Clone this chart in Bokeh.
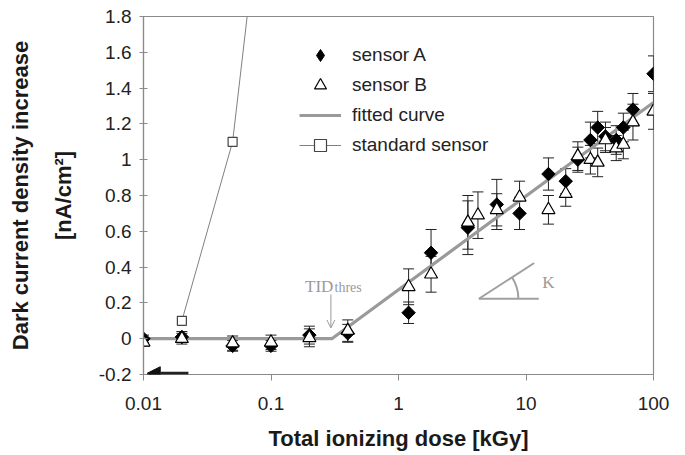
from bokeh.plotting import figure
from bokeh.models import (Whisker, TeeHead, ColumnDataSource, Legend, LegendItem,
                          FixedTicker, Label, Arrow, NormalHead, OpenHead)
from bokeh.embed import file_html
from bokeh.resources import INLINE
import numpy as np

# ---- data ----
dose_a = [0.01, 0.02, 0.05, 0.1, 0.2, 0.4, 1.2, 1.8, 3.5, 5.9, 8.9, 15, 20.5, 25.5, 32, 36.5, 42, 51, 58, 69, 100]
curr_a = [0.0, 0.01, -0.04, -0.04, 0.02, 0.03, 0.145, 0.48, 0.62, 0.75, 0.70, 0.92, 0.88, 1.0, 1.11, 1.18, 1.13, 1.11, 1.18, 1.28, 1.48]
err_a = [0.02, 0.03, 0.03, 0.03, 0.05, 0.05, 0.06, 0.13, 0.15, 0.14, 0.09, 0.09, 0.07, 0.07, 0.10, 0.09, 0.08, 0.08, 0.08, 0.09, 0.10]

dose_b = [0.01, 0.02, 0.05, 0.1, 0.2, 0.4, 1.2, 1.8, 3.5, 4.2, 5.9, 8.9, 15, 20.5, 25.5, 32, 36.5, 42, 51, 58, 69, 100]
curr_b = [-0.02, 0.0, -0.025, -0.02, 0.005, 0.045, 0.29, 0.36, 0.65, 0.69, 0.72, 0.79, 0.72, 0.81, 1.02, 1.0, 0.985, 1.11, 1.065, 1.085, 1.21, 1.27]
err_b = [0.02, 0.03, 0.04, 0.04, 0.05, 0.06, 0.10, 0.10, 0.15, 0.13, 0.09, 0.09, 0.08, 0.07, 0.08, 0.08, 0.08, 0.07, 0.07, 0.08, 0.10, 0.10]

fit_dose = [0.01, 0.3, 100]
fit_curr = [0.0, 0.0, 1.32]

std_dose = [0.02, 0.05, 0.1]
std_curr = [0.1, 1.1, 2.95]

x_ticks = [0.01, 0.1, 1, 10, 100]
x_tick_labels = ["0.01", "0.1", "1", "10", "100"]
y_ticks = [-0.2, 0.0, 0.2, 0.4, 0.6, 0.8, 1.0, 1.2, 1.4, 1.6, 1.8]
y_tick_labels = ["-0.2", "0", "0.2", "0.4", "0.6", "0.8", "1", "1.2", "1.4", "1.6", "1.8"]

FONT = "Liberation Sans"
SERIF = "Liberation Serif"
AXIS_GRAY = "#8a8a8a"

p = figure(width=680, height=455, x_axis_type="log", x_range=(0.01, 100), y_range=(-0.2, 1.8),
           output_backend="svg", toolbar_location=None,
           min_border_left=143, min_border_right=27, min_border_top=16, min_border_bottom=81)
p.grid.visible = False
p.outline_line_color = AXIS_GRAY
p.outline_line_width = 1.2
p.background_fill_color = "white"
p.border_fill_color = "white"

p.xaxis.ticker = FixedTicker(ticks=x_ticks, minor_ticks=[])
p.xaxis.major_label_overrides = dict(zip(x_ticks, x_tick_labels))
p.yaxis.ticker = FixedTicker(ticks=y_ticks, minor_ticks=[])
p.yaxis.major_label_overrides = dict(zip(y_ticks, y_tick_labels))

for ax in (p.xaxis[0], p.yaxis[0]):
    ax.axis_line_color = AXIS_GRAY
    ax.axis_line_width = 1.2
    ax.major_tick_line_color = AXIS_GRAY
    ax.major_tick_line_width = 1
    ax.minor_tick_line_color = None
    ax.major_label_text_font = FONT
    ax.major_label_text_font_size = "19px"
    ax.major_label_text_color = "#222222"
    ax.axis_label_text_font = FONT
    ax.axis_label_text_font_size = "22px"
    ax.axis_label_text_font_style = "bold"
    ax.axis_label_text_color = "#1a1a1a"

p.xaxis.major_tick_in = 0
p.xaxis.major_tick_out = 6
p.yaxis.major_tick_in = 4
p.yaxis.major_tick_out = 4

p.xaxis.axis_label = "Total ionizing dose [kGy]"
p.xaxis.major_label_standoff = 16
p.xaxis.axis_label_standoff = 13
p.yaxis.axis_label = "Dark current density increase\n[nA/cm²]"
p.yaxis.axis_label_text_line_height = 1.7
p.yaxis.major_label_standoff = 8
p.yaxis.axis_label_standoff = 20

src_a = ColumnDataSource(dict(x=dose_a, y=curr_a,
                              lo=np.array(curr_a) - np.array(err_a),
                              hi=np.array(curr_a) + np.array(err_a)))
src_b = ColumnDataSource(dict(x=dose_b, y=curr_b,
                              lo=np.array(curr_b) - np.array(err_b),
                              hi=np.array(curr_b) + np.array(err_b)))

# standard sensor
std_line = p.line(std_dose, std_curr, line_color="#808080", line_width=1)
std_pts = p.scatter(std_dose, std_curr, marker="square", size=9, fill_color="white",
                    line_color="#444444", line_width=1.2)

# fitted curve
fit_r = p.line(fit_dose, fit_curr, line_color="#9a9a9a", line_width=3.2)

# error bars
for src in (src_a, src_b):
    w = Whisker(source=src, base="x", lower="lo", upper="hi", dimension="height",
                line_color="#222222", line_width=1,
                upper_head=TeeHead(size=11, line_color="#222222", line_width=1),
                lower_head=TeeHead(size=11, line_color="#222222", line_width=1))
    p.add_layout(w)

# sensor A: filled diamonds (square turned by 45 degrees)
ra = p.scatter("x", "y", source=src_a, marker="square", angle=np.pi / 4, size=9.5,
               fill_color="black", line_color="black", line_width=1)
# legend swatch for sensor A (a single undrawn NaN point)
ra_key = p.scatter(x=[float("nan")], y=[float("nan")], marker="diamond", size=14,
                   fill_color="black", line_color="black")
rb = p.scatter("x", "y", source=src_b, marker="triangle", size=13, fill_color="white",
               line_color="black", line_width=1.2)

legend = Legend(items=[LegendItem(label="sensor A", renderers=[ra_key]),
                       LegendItem(label="sensor B", renderers=[rb]),
                       LegendItem(label="fitted curve", renderers=[fit_r]),
                       LegendItem(label="standard sensor", renderers=[std_line, std_pts])],
                location=(156, 214), glyph_width=42, glyph_height=30, label_standoff=11,
                spacing=0, padding=0, margin=0, border_line_color=None,
                background_fill_alpha=0, label_text_font=FONT, label_text_font_size="19px",
                label_text_color="#222222", label_height=30)
p.add_layout(legend, "center")

# TID threshold annotation
p.add_layout(Label(x=0.185, y=0.291, text="TID", text_font=SERIF, text_font_size="17px",
                   text_color="#9a9a9a", text_baseline="alphabetic"))
p.add_layout(Label(x=0.315, y=0.284, text="thres", text_font=SERIF, text_font_size="14px",
                   text_color="#9a9a9a", text_baseline="alphabetic"))
p.add_layout(Arrow(x_start=0.295, y_start=0.247, x_end=0.295, y_end=0.06,
                   line_color="#9a9a9a", line_width=1,
                   end=OpenHead(size=8, line_color="#9a9a9a", line_width=1)))

# slope K annotation
p.line([4.27, 12.6], [0.223, 0.223], line_color="#a0a0a0", line_width=2)
p.line([4.27, 11.6], [0.223, 0.423], line_color="#a0a0a0", line_width=2)
p.arc(x=[4.27], y=[0.223], radius=39.5, radius_units="screen", start_angle=0, end_angle=0.57,
      line_color="#a0a0a0", line_width=2)
p.add_layout(Label(x=13.4, y=0.313, text="K", text_font=SERIF, text_font_size="17px",
                   text_color="#9a9a9a", text_baseline="middle"))

# arrow pointing to left axis
p.add_layout(Arrow(x_start=0.0225, y_start=-0.193, x_end=0.0107, y_end=-0.193,
                   line_color="#222222", line_width=3,
                   end=NormalHead(size=13, fill_color="#111111", line_color="#111111")))

open("out.html", "w").write(file_html(p, INLINE))
